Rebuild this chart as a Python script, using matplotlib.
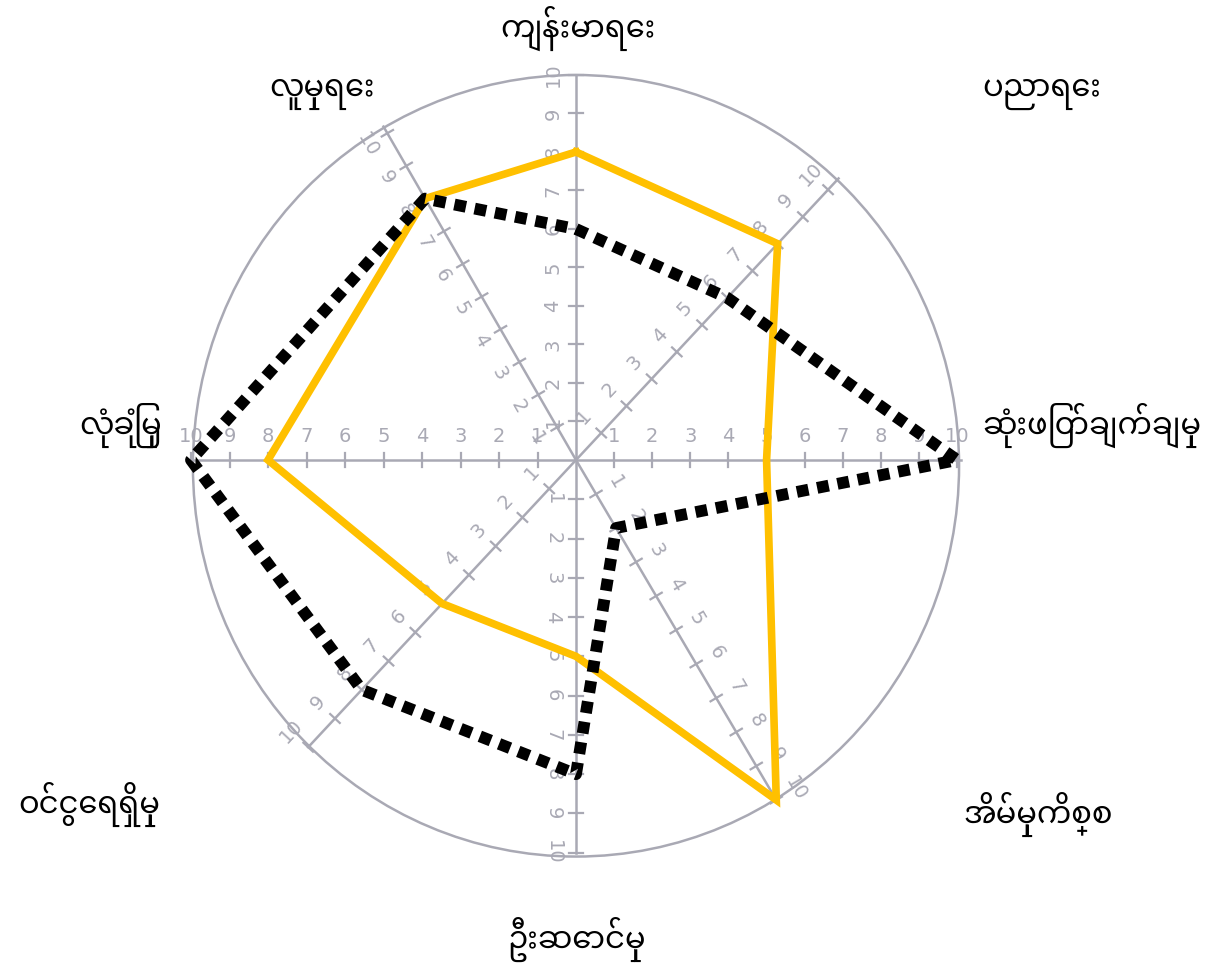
import numpy as np
import matplotlib
matplotlib.use('Agg')
import matplotlib.pyplot as plt
from matplotlib.patches import Ellipse

# life-area categories, clockwise from the top
categories = ['ကျန်းမာရေး', 'ပညာရေး', 'ဆုံးဖြတ်ချက်ချမှု', 'အိမ်မှုကိစ္စ',
              'ဦးဆောင်မှု', 'ဝင်ငွေရရှိမှု', 'လုံခြုံမှု', 'လူမှုရေး']
series_a = [8, 8, 5, 10, 5, 5, 8, 8]     # yellow outline
series_b = [6, 6, 10, 2, 8, 8, 10, 8]    # black dotted outline
scale_ticks = list(range(1, 11))

# hand-drawn wheel: spokes are not evenly spaced and their scales differ a bit
spoke_angles = [90, 47, 0, -59.5, -90, -133, 180, 120]
spoke_scale = [1.0, 0.96, 0.99, 1.025, 1.02, 1.02, 1.0, 0.98]
# side of each spoke the scale numbers sit on
num_side = [180, 137, 90, 30, 180, 137, 90, 210]
# category label anchors (x, y, ha)
label_pos = [(0.05, 11.2, 'center'), (12.1, 9.5, 'center'), (10.55, 0.9, 'left'),
             (12.0, -9.2, 'center'), (0.0, -12.45, 'center'), (-10.8, -8.95, 'right'),
             (-10.75, 0.9, 'right'), (-6.6, 9.5, 'center')]

grey = '#a9a9b4'
px = 38.5  # pixels per scale unit
W, H = 1217, 971
cx, cy = 576, 460

fig = plt.figure(figsize=(W / 100, H / 100), dpi=100)
ax = fig.add_axes([0, 0, 1, 1])
ax.set_xlim(-cx / px, (W - cx) / px)
ax.set_ylim(-(H - cy) / px, cy / px)
ax.axis('off')

ang = np.deg2rad(spoke_angles)
k = np.array(spoke_scale)

# outer ring
ax.add_patch(Ellipse((0, -0.15), 2 * 9.95, 2 * 10.15, fill=False,
                     edgecolor=grey, lw=1.8, zorder=1))

# spokes with tick marks and scale numbers
for a, s, side in zip(ang, k, np.deg2rad(num_side)):
    ux, uy = np.cos(a), np.sin(a)
    nx, ny = -uy, ux
    r_end = 10 * max(s, 1.0)
    ax.plot([0, r_end * ux], [0, r_end * uy], color=grey, lw=1.8, zorder=1)
    rot = np.rad2deg(a)
    if rot > 90:
        rot -= 180
    elif rot < -90:
        rot += 180
    for t in scale_ticks:
        x, y = t * s * ux, t * s * uy
        ax.plot([x - 0.17 * nx, x + 0.17 * nx], [y - 0.17 * ny, y + 0.17 * ny],
                color=grey, lw=1.6, zorder=1)
        ax.text(x + 0.6 * np.cos(side), y + 0.6 * np.sin(side), str(t),
                rotation=rot, ha='center', va='center', fontsize=14,
                color=grey, zorder=1, rotation_mode='anchor')

def outline(vals, **kw):
    v = np.array(vals + vals[:1], dtype=float) * np.append(k, k[0])
    a = np.append(ang, ang[0])
    ax.plot(v * np.cos(a), v * np.sin(a), **kw)

outline(series_a, color='#FFC000', lw=5.5, solid_joinstyle='miter', zorder=3)
outline(series_b, color='black', lw=8.5, linestyle=(0, (1.0, 0.75)),
        dash_capstyle='butt', zorder=4)

for name, (x, y, ha) in zip(categories, label_pos):
    ax.text(x, y, name, ha=ha, va='center', fontsize=22,
            family=['Noto Sans Myanmar', 'DejaVu Sans'], color='black')

fig.savefig('out.png', dpi=100)
